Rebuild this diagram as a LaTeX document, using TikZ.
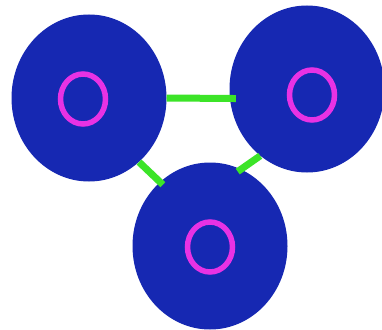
\documentclass[tikz,border=0pt]{standalone}
\usetikzlibrary{shapes.geometric}
\definecolor{discblue}{RGB}{22,40,178}
\definecolor{ringpink}{RGB}{232,50,228}
\definecolor{linkgreen}{RGB}{60,228,40}
\tikzset{
  disc/.style={ellipse, fill=discblue, draw=none, minimum width=155pt, minimum height=167pt, inner sep=0pt},
  ring/.style={ellipse, draw=ringpink, line width=5.5pt, minimum width=45pt, minimum height=50pt, inner sep=0pt},
  link/.style={draw=linkgreen, line width=7pt}
}
\begin{document}
\begin{tikzpicture}[x=1pt,y=-1pt]
\useasboundingbox (0,0) rectangle (382,329);
\fill[white] (0,0) rectangle (382,329);
\node[disc] (L) at (89,98) {};
\node[disc] (R) at (307,89) {};
\node[disc] (B) at (210,246) {};
\node[ring] (rl) at (83,99) {};
\node[ring] (rr) at (312,95) {};
\node[ring] (rb) at (210,247) {};
\draw[link, shorten >=-6pt] (L.0) -- (R.187);
\draw[link, shorten >=-4pt] (L.-52) -- (B.128);
\draw[link, shorten >=-4pt] (R.-125) -- (B.68);
\end{tikzpicture}
\end{document}
